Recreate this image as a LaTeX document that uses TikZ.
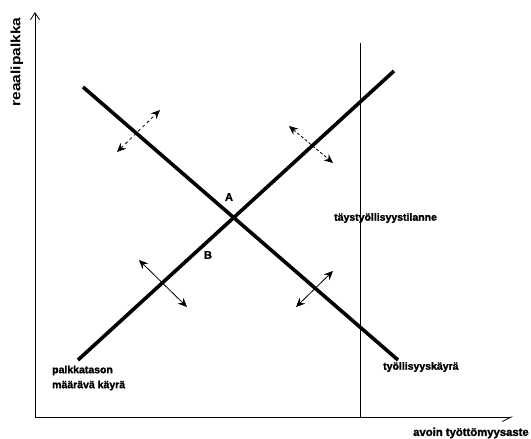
\documentclass[tikz,border=0pt]{standalone}
\usepackage{fontspec}
\setmainfont{Liberation Sans}
\newfontfamily\heavy[BoldFeatures={FakeBold=1.6}]{Liberation Sans}
\usetikzlibrary{arrows.meta}
\tikzset{
  curve/.style={line width=3.6pt},
  axis/.style={line width=0.8pt},
  shift arrow/.style={line width=0.8pt, {Stealth[length=9pt,width=8pt,inset=3pt]}-{Stealth[length=9pt,width=8pt,inset=3pt]}},
  lbl/.style={font=\fontsize{10.5}{12}\selectfont\heavy\bfseries, inner sep=0pt},
  pt/.style={font=\fontsize{11}{12}\selectfont\heavy\bfseries, inner sep=0pt}
}
\begin{document}
\begin{tikzpicture}[x=1pt,y=-1pt]
\useasboundingbox (0,0) rectangle (531,439);
% axes
\coordinate (O) at (35,417);
\coordinate (Ytip) at (35,12);
\coordinate (Xtip) at (513,417);
\draw[axis,-{Straight Barb[length=7pt,width=9pt]}] (O) -- (Ytip);
\draw[axis,-{Straight Barb[length=9pt,width=9pt,harpoon,swap]}] (O) -- (Xtip);
\node[font=\fontsize{13.5}{14}\selectfont\bfseries, rotate=90, inner sep=0pt] (ylab) at (17,62) {\scalebox{1.15}[1]{reaalipalkka}};
\node[lbl, anchor=west, font=\fontsize{11.3}{12}\selectfont\heavy\bfseries] (xlab) at (413,433) {avoin työttömyysaste};
% full employment line
\coordinate (Ftop) at (360,43);
\coordinate (Fbot) at (360,417);
\draw[line width=0.9pt] (Ftop) -- (Fbot);
\node[lbl, anchor=west] (flab) at (334,218) {täystyöllisyystilanne};
% curves
\coordinate (D1) at (83,87);
\coordinate (D2) at (398,360);
\coordinate (S1) at (78,360);
\coordinate (S2) at (394,71);
\draw[curve] (D1) -- (D2);
\draw[curve] (S1) -- (S2);
\node[lbl, anchor=west] (dlab) at (383,367) {työllisyyskäyrä};
\node[lbl, anchor=west, align=left] (slab) at (52,378) {palkkatason\\[3pt]määrävä käyrä};
\node[pt] (A) at (229,197) {A};
\node[pt] (B) at (208,255) {B};
% shift arrows
\coordinate (a1) at (117,152); \coordinate (a2) at (160,110);
\coordinate (b1) at (289,126); \coordinate (b2) at (333,163);
\coordinate (c1) at (139,260); \coordinate (c2) at (187,307);
\coordinate (d1) at (296,307); \coordinate (d2) at (333,271);
\draw[shift arrow, dashed] (a1) -- (a2);
\draw[shift arrow, densely dashed] (b1) -- (b2);
\draw[shift arrow] (c1) -- (c2);
\draw[shift arrow] (d1) -- (d2);
\end{tikzpicture}
\end{document}
